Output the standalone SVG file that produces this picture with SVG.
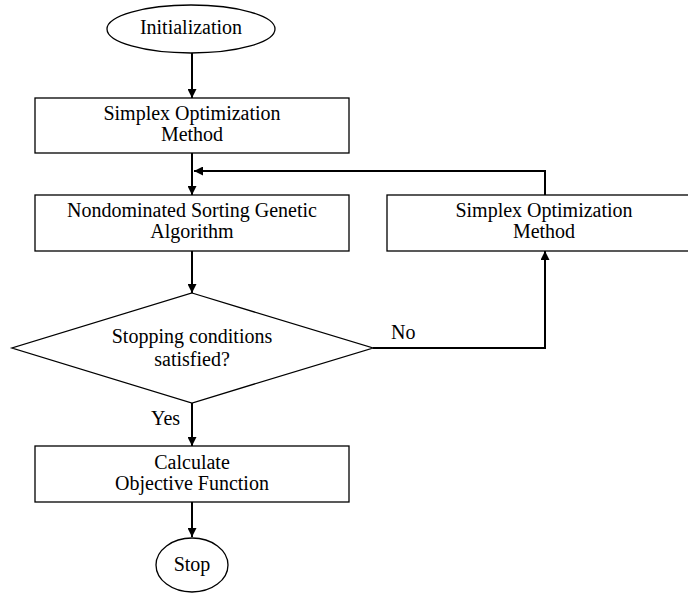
<svg xmlns="http://www.w3.org/2000/svg" width="688" height="603" viewBox="0 0 688 603">
<defs>
<marker id="ah" viewBox="0 0 10 10" refX="10" refY="5" markerWidth="4.5" markerHeight="4.5" markerUnits="strokeWidth" orient="auto">
<path d="M0,0 L10,5 L0,10 Z" fill="#000"/>
</marker>
<style>
.shape{fill:#fff;stroke:#000;stroke-width:1.3}
.t{font-family:"Liberation Serif","Times New Roman",serif;font-size:20px;fill:#000;text-anchor:middle}
.l{font-family:"Liberation Serif","Times New Roman",serif;font-size:20px;fill:#000}
.c{fill:none;stroke:#000;stroke-width:2;marker-end:url(#ah)}
</style>
</defs>
<rect width="688" height="603" fill="#fff"/>
<g id="connectors">
<path class="c" d="M192,53 V98"/>
<path class="c" d="M192,153 V195"/>
<path class="c" d="M545,195 V171 H194"/>
<path class="c" d="M192,251 V293"/>
<path class="c" d="M373,348 H545 V251"/>
<path class="c" d="M192,403 V446"/>
<path class="c" d="M192,502 V537"/>
</g>
<g id="init"><ellipse class="shape" cx="191" cy="29" rx="84" ry="24"/><text class="t" x="191" y="34">Initialization</text></g>
<g id="simplex1"><rect class="shape" x="35" y="98" width="314" height="55"/><text class="t" x="192" y="120">Simplex Optimization</text><text class="t" x="192" y="141">Method</text></g>
<g id="nsga"><rect class="shape" x="35" y="195" width="314" height="56"/><text class="t" x="192" y="217">Nondominated Sorting Genetic</text><text class="t" x="192" y="238">Algorithm</text></g>
<g id="simplex2"><rect class="shape" x="387" y="195" width="314" height="56"/><text class="t" x="544" y="217">Simplex Optimization</text><text class="t" x="544" y="238">Method</text></g>
<g id="decision"><path class="shape" d="M192,293 L373,348 L192,403 L12,348 Z"/><text class="t" x="192" y="343">Stopping conditions</text><text class="t" x="192" y="366">satisfied?</text></g>
<g id="labels"><text class="l" x="391" y="339">No</text><text class="l" x="151" y="425">Yes</text></g>
<g id="calc"><rect class="shape" x="35" y="446" width="314" height="56"/><text class="t" x="192" y="469">Calculate</text><text class="t" x="192" y="490">Objective Function</text></g>
<g id="stop"><ellipse class="shape" cx="192" cy="565" rx="36" ry="27"/><text class="t" x="192" y="571">Stop</text></g>
</svg>
